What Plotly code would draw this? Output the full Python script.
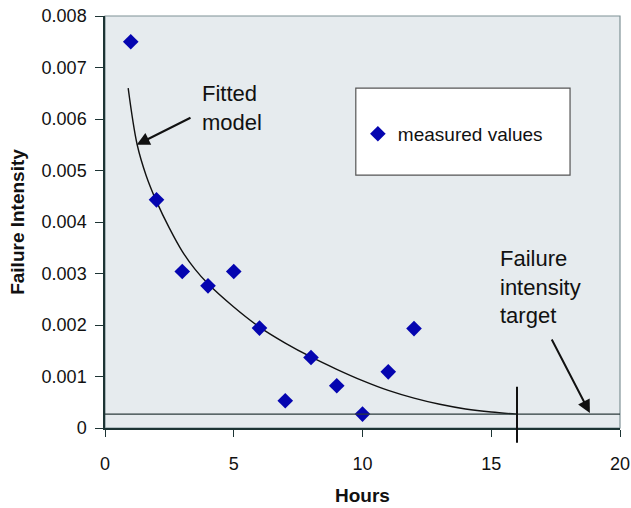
import plotly.graph_objects as go

# ---- data ----
hours = [1, 2, 3, 4, 5, 6, 7, 8, 9, 10, 11, 12]
measured = [0.0075, 0.00443, 0.00304, 0.00276, 0.00304, 0.00194,
            0.00053, 0.00137, 0.00082, 0.00027, 0.00109, 0.00193]

fit_hours = [0.9, 1.25, 1.6, 2, 2.5, 3, 3.5, 4, 5, 6, 7, 8, 9, 10, 11, 12, 13, 14, 15, 16]
fit_values = [0.0066, 0.0055, 0.0049, 0.0044, 0.00388, 0.00343, 0.00308, 0.0028,
              0.00235, 0.00196, 0.00165, 0.00138, 0.00114, 0.00092, 0.00073,
              0.00058, 0.00046, 0.00037, 0.00031, 0.00027]

target_intensity = 0.00027
target_hours = 16

x_ticks = [0, 5, 10, 15, 20]
y_ticks = [0, 0.001, 0.002, 0.003, 0.004, 0.005, 0.006, 0.007, 0.008]
y_tick_labels = ["0", "0.001", "0.002", "0.003", "0.004", "0.005", "0.006", "0.007", "0.008"]

x_range = [0, 20]
y_range = [0, 0.008]

FONT = "Liberation Sans, Arial, sans-serif"

fig = go.Figure()

fig.add_trace(go.Scatter(
    x=fit_hours, y=fit_values, mode="lines",
    line=dict(color="#111111", width=1.4, shape="spline", smoothing=1.0),
    showlegend=False, hoverinfo="skip",
))

fig.add_trace(go.Scatter(
    x=hours, y=measured, mode="markers", name="measured values",
    marker=dict(symbol="diamond", size=12, color="#0505B0", line=dict(width=0)),
))

tx = (target_hours - x_range[0]) / (x_range[1] - x_range[0])

shapes = [
    # plot frame (top/right gray)
    dict(type="rect", xref="paper", yref="paper", x0=0, x1=1, y0=0, y1=1,
         line=dict(color="#7f9296", width=1.2), layer="below"),
    # legend box
    dict(type="rect", xref="paper", yref="paper", x0=0.487, x1=0.903, y0=0.614, y1=0.825,
         line=dict(color="#555555", width=1.2), fillcolor="white", layer="below"),
    # target line
    dict(type="line", xref="paper", yref="y", x0=0, x1=1,
         y0=target_intensity, y1=target_intensity,
         line=dict(color="#2b3b3b", width=1.2)),
    # vertical marker at target hours
    dict(type="line", xref="paper", yref="paper", x0=tx, x1=tx, y0=-0.036, y1=0.10,
         line=dict(color="#111111", width=2)),
]

L, R, T, B = 105, 11, 16, 80
W, H = 631, 508
pw, ph = W - L - R, H - T - B


def px2paper(px, py):
    return (px - L) / pw, (H - B - py) / ph


def data2px(x, y):
    hx = L + (x - x_range[0]) / (x_range[1] - x_range[0]) * pw
    hy = T + (y_range[1] - y) / (y_range[1] - y_range[0]) * ph
    return hx, hy


annotations = []
# arrows: head on data, tail at pixel position
for head, tail in [((1.23, 0.0055), (192, 117)), ((18.83, 0.00029), (551, 338))]:
    hx, hy = data2px(*head)
    annotations.append(dict(x=head[0], y=head[1], xref="x", yref="y",
                            ax=tail[0] - hx, ay=tail[1] - hy, text="",
                            showarrow=True, arrowhead=2, arrowsize=1.3,
                            arrowwidth=2, arrowcolor="#111111"))

for txt, (px, py) in [("Fitted<br>model", (200, 108)),
                      ("Failure<br>intensity<br>target", (498, 287))]:
    ax_, ay_ = px2paper(px, py)
    annotations.append(dict(x=ax_, y=ay_, xref="paper", yref="paper", text=txt,
                            showarrow=False, xanchor="left", yanchor="middle", align="left",
                            font=dict(family=FONT, size=22, color="#111111")))

# x-axis title
hx_, hy_ = px2paper(362, 496)
annotations.append(dict(x=hx_, y=hy_, xref="paper", yref="paper", text="<b>Hours</b>",
                        showarrow=False, xanchor="center", yanchor="middle",
                        font=dict(family=FONT, size=19, color="#111111")))

fig.update_layout(
    width=W, height=H,
    margin=dict(l=L, r=R, t=T, b=B),
    paper_bgcolor="white",
    plot_bgcolor="#E6EBEE",
    font=dict(family=FONT, size=18, color="#111111"),
    shapes=shapes,
    annotations=annotations,
    showlegend=True,
    legend=dict(x=0.491, y=0.714, xanchor="left", yanchor="middle",
                bgcolor="rgba(0,0,0,0)", borderwidth=0,
                font=dict(family=FONT, size=19, color="#111111"),
                itemwidth=30),
    xaxis=dict(
        range=x_range, tickvals=x_ticks, ticktext=[str(v) for v in x_ticks],
        automargin=False,
        showgrid=False, zeroline=False, showline=True, linecolor="#1d3434", linewidth=1.5,
        ticks="outside", ticklen=7, tickcolor="#1d3434", tickwidth=1,
        ticklabelstandoff=12,
        tickfont=dict(family=FONT, size=18, color="#111111"),
    ),
    yaxis=dict(
        range=y_range, tickvals=y_ticks, ticktext=y_tick_labels,
        automargin=False,
        showgrid=False, zeroline=False, showline=True, linecolor="#1d3434", linewidth=1.5,
        ticks="outside", ticklen=8, tickcolor="#1d3434", tickwidth=1,
        ticklabelstandoff=5,
        tickfont=dict(family=FONT, size=18, color="#111111"),
        title=dict(text="<b>Failure Intensity</b>", font=dict(family=FONT, size=19, color="#111111"), standoff=12),
    ),
)

fig.write_html("out.html", config={"displayModeBar": False},
               post_script="document.body.style.margin='0';")
